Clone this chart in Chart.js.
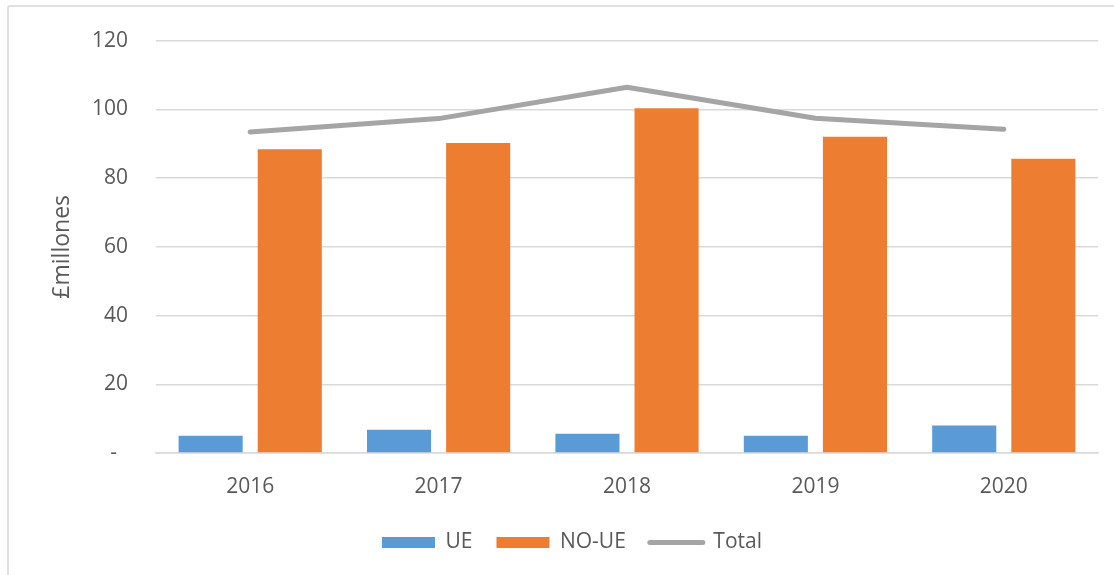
<!DOCTYPE html>
<html>
<head>
<meta charset="utf-8">
<script src="https://cdn.jsdelivr.net/npm/chart.js@4"></script>
<style>
  html, body { margin: 0; padding: 0; background: #fff; overflow: hidden; }
  #wrap { position: relative; width: 1114px; height: 575px; }
  #frame { position: absolute; left: 7px; top: 5px; width: 1200px; height: 700px;
           border: 2px solid #e0e0e0; border-radius: 3px; }
  #chart { position: absolute; left: 0; top: 0; }
</style>
</head>
<body>
<div id="wrap">
  <div id="frame"></div>
  <canvas id="chart" width="1114" height="575"></canvas>
</div>
<script>
const years = ["2016", "2017", "2018", "2019", "2020"];
const ueValues = [5.0, 6.8, 5.6, 5.0, 8.0];
const noUeValues = [88.4, 90.2, 100.3, 92.0, 85.6];
const totalValues = [93.4, 97.3, 106.4, 97.4, 94.2];
const yTicks = [0, 20, 40, 60, 80, 100, 120];

const textColor = "#595959";
const gridColor = "#d9d9d9";

Chart.defaults.font.family = "'Open Sans', sans-serif";
Chart.defaults.font.size = 21;
Chart.defaults.color = textColor;

const canvas = document.getElementById("chart");
const ctx = canvas.getContext("2d");

new Chart(ctx, {
    type: "bar",
    data: {
        labels: years,
        datasets: [
            {
                label: "UE",
                data: ueValues,
                backgroundColor: "#5b9bd5",
                categoryPercentage: 0.84,
                barPercentage: 0.81
            },
            {
                label: "NO-UE",
                data: noUeValues,
                backgroundColor: "#ed7d31",
                categoryPercentage: 0.84,
                barPercentage: 0.81
            },
            {
                type: "line",
                label: "Total",
                data: totalValues,
                borderColor: "#a5a5a5",
                backgroundColor: "#a5a5a5",
                borderWidth: 5,
                borderCapStyle: "round",
                borderJoinStyle: "round",
                pointRadius: 0,
                tension: 0,
                fill: false
            }
        ]
    },
    options: {
        responsive: false,
        animation: false,
        layout: {
            padding: { top: 35, left: 46, right: 16, bottom: 12 }
        },
        plugins: {
            tooltip: { enabled: false },
            legend: {
                position: "bottom",
                labels: {
                    usePointStyle: true,
                    pointStyleWidth: 53,
                    boxHeight: 11,
                    padding: 24,
                    color: textColor,
                    font: { size: 21 },
                    generateLabels: function (chart) {
                        const items = Chart.defaults.plugins.legend.labels.generateLabels(chart);
                        items.forEach(function (item) {
                            if (item.datasetIndex === 2) {
                                item.pointStyle = "line";
                                item.lineWidth = 5;
                                item.strokeStyle = "#a5a5a5";
                                item.lineCap = "round";
                            } else {
                                item.pointStyle = "rect";
                                item.lineWidth = 0;
                            }
                        });
                        return items;
                    }
                }
            }
        },
        scales: {
            x: {
                afterFit: function (scale) { scale.height = 55; },
                grid: { display: false },
                border: { display: true, color: gridColor, width: 1.5 },
                ticks: { padding: 13, color: textColor }
            },
            y: {
                min: 0,
                max: 120,
                afterFit: function (scale) { scale.width = 110; },
                afterBuildTicks: function (scale) {
                    scale.ticks = yTicks.map(function (v) { return { value: v }; });
                },
                grid: { color: gridColor, lineWidth: 1.5, drawTicks: false },
                border: { display: false },
                ticks: {
                    padding: 28,
                    color: textColor,
                    callback: function (v) { return v === 0 ? "-  " : v; }
                },
                title: {
                    display: true,
                    text: "£millones",
                    color: textColor,
                    font: { size: 23 },
                    padding: { top: 3, bottom: 0 }
                }
            }
        }
    }
});
</script>
</body>
</html>
